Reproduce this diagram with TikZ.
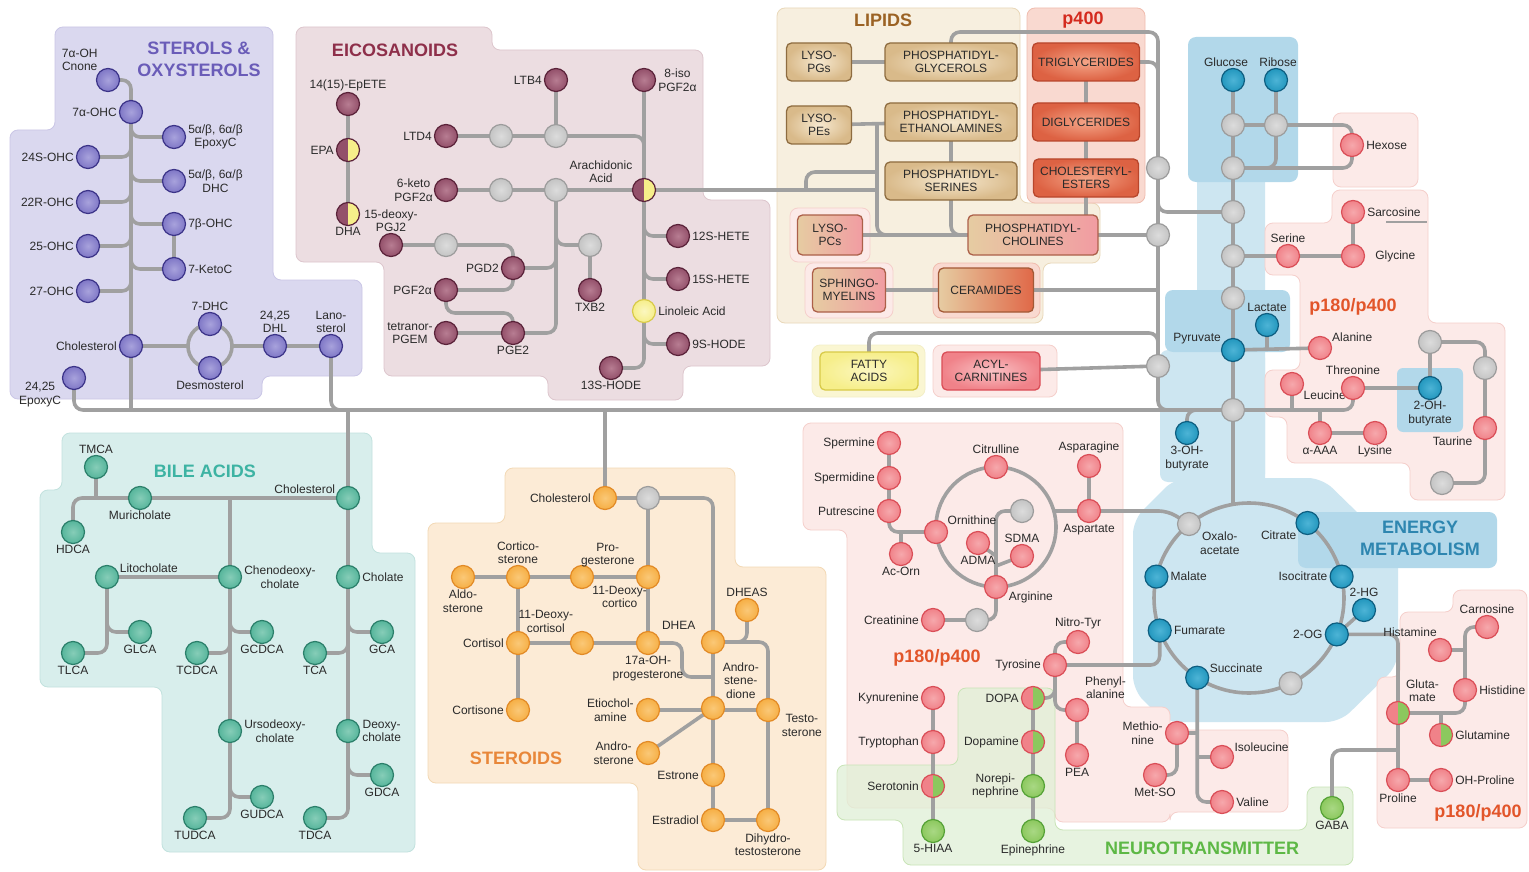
\documentclass[tikz,border=0pt]{standalone}
\usepackage{fontspec}
\setmainfont{Liberation Sans}
\usetikzlibrary{calc}
\pgfdeclarelayer{panel}
\pgfdeclarelayer{link}
\pgfsetlayers{panel,link,main}
\definecolor{lnc}{HTML}{A0A0A0}
\definecolor{txt}{HTML}{2A2A2A}
\definecolor{sterF}{HTML}{7F77C6}\definecolor{sterL}{HTML}{A8A2DC}\definecolor{sterD}{HTML}{3B3388}
\definecolor{eicF}{HTML}{93506A}\definecolor{eicL}{HTML}{B77D92}\definecolor{eicD}{HTML}{5A2239}
\definecolor{gryF}{HTML}{C4C4C4}\definecolor{gryL}{HTML}{DCDCDC}\definecolor{gryD}{HTML}{9C9C9C}
\definecolor{bilF}{HTML}{56B59B}\definecolor{bilL}{HTML}{86CDB8}\definecolor{bilD}{HTML}{2B7F6A}
\definecolor{orgF}{HTML}{F6AF45}\definecolor{orgL}{HTML}{FAC877}\definecolor{orgD}{HTML}{E28A26}
\definecolor{redF}{HTML}{F08289}\definecolor{redL}{HTML}{F6A8AC}\definecolor{redD}{HTML}{DA4E57}
\definecolor{bluF}{HTML}{2397BE}\definecolor{bluL}{HTML}{4DB4D6}\definecolor{bluD}{HTML}{0E5E80}
\definecolor{grnF}{HTML}{8CC85E}\definecolor{grnL}{HTML}{A9D884}\definecolor{grnD}{HTML}{55A236}
\definecolor{yelF}{HTML}{F6EE8A}\definecolor{yelL}{HTML}{FBF7C0}\definecolor{yelD}{HTML}{D8CA48}
\definecolor{tanF}{HTML}{D9BA8A}\definecolor{tanL}{HTML}{F6E8CF}\definecolor{tanD}{HTML}{8E6C40}
\definecolor{tanH}{HTML}{E6CCA2}\definecolor{pnkH}{HTML}{F19CA2}\definecolor{orH}{HTML}{E06848}
\definecolor{rbxL}{HTML}{F4A487}\definecolor{rbxF}{HTML}{DD6243}\definecolor{rbxD}{HTML}{B8462C}
\definecolor{sterP}{HTML}{DAD8EF}\definecolor{sterPD}{HTML}{CAC6E6}
\definecolor{eicP}{HTML}{ECDDE1}\definecolor{eicPD}{HTML}{DDC6CD}
\definecolor{lipP}{HTML}{F7EFDF}\definecolor{lipPD}{HTML}{E9D8B9}
\definecolor{p4P}{HTML}{F9D9D0}\definecolor{p4PD}{HTML}{F0BCAE}
\definecolor{pinkP}{HTML}{FCEAE8}\definecolor{pinkPD}{HTML}{F5CFCB}
\definecolor{bilP}{HTML}{D8EEEC}\definecolor{bilPD}{HTML}{C2E2DE}
\definecolor{strP}{HTML}{FCEBD6}\definecolor{strPD}{HTML}{F3D9B5}
\definecolor{grnP}{HTML}{E0F0D6}\definecolor{grnPD}{HTML}{C8E4B6}
\definecolor{bluP}{HTML}{CDE6F1}\definecolor{bluP2}{HTML}{B2D8EA}
\definecolor{yelP}{HTML}{FAF6D2}
\definecolor{sterT}{HTML}{6A5CB8}\definecolor{eicT}{HTML}{8E2F4A}\definecolor{lipT}{HTML}{9B6224}
\definecolor{p4T}{HTML}{D42A1E}\definecolor{pT}{HTML}{E2552A}\definecolor{bilT}{HTML}{3DB3A3}
\definecolor{strT}{HTML}{E8873A}\definecolor{bluT}{HTML}{2E86B0}\definecolor{grnT}{HTML}{5DB845}
\newcommand\lblf{\fontsize{12}{13.5}\selectfont}
\newcommand\boxf{\fontsize{12}{13.5}\selectfont}
\newcommand\ttlf{\fontsize{18}{22}\selectfont\bfseries}
\newcommand\MB[6]{\node[#1,label={[name=#2-t,lbl,label distance=#5]#4:{#6}}] (#2) at (#3) {};}
\tikzset{
 nd/.style={circle, minimum size=23pt, inner sep=0pt, line width=1.2pt},
 ster/.style={nd, draw=sterD, inner color=sterL, outer color=sterF},
 eic/.style={nd, draw=eicD, inner color=eicL, outer color=eicF},
 gry/.style={nd, draw=gryD, inner color=gryL, outer color=gryF},
 bil/.style={nd, draw=bilD, inner color=bilL, outer color=bilF},
 org/.style={nd, draw=orgD, inner color=orgL, outer color=orgF},
 rdn/.style={nd, draw=redD, inner color=redL, outer color=redF},
 blu/.style={nd, draw=bluD, inner color=bluL, outer color=bluF},
 grn/.style={nd, draw=grnD, inner color=grnL, outer color=grnF},
 yel/.style={nd, draw=yelD, inner color=yelL, outer color=yelF},
 half/.style n args={3}{nd, draw=#3, path picture={\fill[#1] (path picture bounding box.south west) rectangle (path picture bounding box.north); \fill[#2] (path picture bounding box.north) rectangle (path picture bounding box.south east);}},
 lk/.style={draw=lnc, line width=3.6pt, rounded corners=9pt},
 lbl/.style={font=\lblf, text=txt, align=center, inner sep=1pt},
 ttl/.style={font=\ttlf, align=center, inner sep=0pt},
 bx/.style={rectangle, rounded corners=5pt, line width=1.3pt, font=\boxf, text=txt, align=center, minimum height=38pt, inner sep=2pt},
 tanb/.style={bx, draw=tanD, inner color=tanL, outer color=tanF},
 tp/.style={bx, draw=tanD!60!redD, left color=tanH, right color=pnkH},
 tr/.style={bx, draw=tanD!50!rbxD, left color=tanH, right color=orH},
 rbx/.style={bx, draw=rbxD, inner color=rbxL, outer color=rbxF},
 ybx/.style={bx, draw=yelD, inner color=yelL, outer color=yelF},
 pbx/.style={bx, draw=redD, inner color=redL!70!white, outer color=redF},
 pnl/.style={rounded corners=8pt, line width=0.8pt}
}
\begin{document}
\begin{tikzpicture}[x=1pt,y=-1pt]
\useasboundingbox (0,0) rectangle (1529,872);
\begin{pgfonlayer}{panel}
\fill[white] (0,0) rectangle (1529,872);
% sterols
\filldraw[pnl, fill=sterP, draw=sterPD] (55,27) -- (273,27) -- (273,280) -- (362,280) -- (362,376) -- (262,376) -- (262,399) -- (10,399) -- (10,130) -- (55,130) -- cycle;
% eicosanoids
\filldraw[pnl, fill=eicP, draw=eicPD] (296,27) -- (492,27) -- (492,50) -- (703,50) -- (703,200) -- (770,200) -- (770,366) -- (683,366) -- (683,400) -- (548,400) -- (548,376) -- (384,376) -- (384,262) -- (296,262) -- cycle;
% lipids
\filldraw[pnl, fill=lipP, draw=lipPD] (777,8) -- (1020,8) -- (1020,203) -- (1100,203) -- (1100,263) -- (1043,263) -- (1043,323) -- (777,323) -- cycle;
\filldraw[pnl, fill=p4P, draw=p4PD] (1027,8) rectangle (1145,203);
\filldraw[pnl, fill=pinkP, draw=pinkPD] (790,208) rectangle (870,262);
\filldraw[pnl, fill=pinkP, draw=pinkPD] (805,263) rectangle (893,318);
\filldraw[pnl, fill=p4P, draw=p4PD] (933,263) rectangle (1040,318);
\filldraw[pnl, fill=yelP, draw=yelD!30] (812,345) rectangle (925,397);
\filldraw[pnl, fill=pinkP, draw=pinkPD] (933,345) rectangle (1057,397);
% energy
\fill[bluP, rounded corners=8pt] (1197,170) rectangle (1265,500);
\fill[bluP, rounded corners=8pt] (1160,350) rectangle (1265,482);
\fill[bluP2, rounded corners=8pt] (1188,37) rectangle (1298,182);
\fill[bluP2, rounded corners=8pt] (1165,290) rectangle (1290,352);
\fill[bluP, rounded corners=14pt] (1175,478) -- (1322,478) -- (1398,552) -- (1398,665) -- (1340,722) -- (1165,722) -- (1133,690) -- (1133,520) -- cycle;
\fill[bluP2, rounded corners=8pt] (1298,512) rectangle (1497,568);
% pink p180/p400 right top
\filldraw[pnl, fill=pinkP, draw=pinkPD] (1333,113) rectangle (1418,187);
\filldraw[pnl, fill=pinkP, draw=pinkPD] (1332,190) -- (1428,190) -- (1428,323) -- (1505,323) -- (1505,500) -- (1410,500) -- (1410,463) -- (1287,463) -- (1287,417) -- (1265,417) -- (1265,370) -- (1300,370) -- (1300,275) -- (1265,275) -- (1265,223) -- (1332,223) -- cycle;
\fill[bluP2, rounded corners=6pt] (1397,368) rectangle (1463,432);
% pink centre
\filldraw[pnl, fill=pinkP, draw=pinkPD] (803,423) -- (1123,423) -- (1123,707) -- (1170,707) -- (1170,730) -- (1288,730) -- (1288,812) -- (1170,812) -- (1170,822) -- (1055,822) -- (1055,808) -- (847,808) -- (847,530) -- (803,530) -- cycle;
\filldraw[pnl, fill=pinkP, draw=pinkPD] (1400,612) -- (1453,612) -- (1453,590) -- (1527,590) -- (1527,828) -- (1377,828) -- (1377,677) -- (1400,677) -- cycle;
% neurotransmitter
\filldraw[pnl, fill=grnP, draw=grnPD, fill opacity=0.75] (958,688) -- (1055,688) -- (1055,830) -- (1307,830) -- (1307,787) -- (1353,787) -- (1353,865) -- (903,865) -- (903,820) -- (837,820) -- (837,765) -- (958,765) -- cycle;
% bile
\filldraw[pnl, fill=bilP, draw=bilPD] (62,433) -- (372,433) -- (372,553) -- (415,553) -- (415,852) -- (162,852) -- (162,687) -- (40,687) -- (40,490) -- (62,490) -- cycle;
% steroids
\filldraw[pnl, fill=strP, draw=strPD] (505,468) -- (735,468) -- (735,567) -- (826,567) -- (826,870) -- (638,870) -- (638,783) -- (428,783) -- (428,523) -- (505,523) -- cycle;
\end{pgfonlayer}

% ---------- titles
\node[ttl, text=sterT] (tSter) at (199,59) {STEROLS \&\\OXYSTEROLS};
\node[ttl, text=eicT] (tEic) at (395,50) {EICOSANOIDS};
\node[ttl, text=lipT] (tLip) at (883,20) {LIPIDS};
\node[ttl, text=p4T] (tP4) at (1083,20) {p400};
\node[ttl, text=pT] (tP1) at (1353,307) {p180/p400};
\node[ttl, text=pT] (tP2) at (937,658) {p180/p400};
\node[ttl, text=pT] (tP3) at (1478,813) {p180/p400};
\node[ttl, text=bilT] (tBil) at (205,471) {BILE ACIDS};
\node[ttl, text=strT] (tStr) at (516,758) {STEROIDS};
\node[ttl, text=bluT] (tEn) at (1420,538) {ENERGY\\METABOLISM};
\node[ttl, text=grnT] (tNeu) at (1202,848) {NEUROTRANSMITTER};

% ---------- sterols
\MB{ster}{s7a1}{108,80}{140}{0pt}{7α-OH\\Cnone}
\MB{ster}{s7a}{131,112}{180}{1pt}{7α-OHC}
\MB{ster}{sEpo}{174,137}{0}{1pt}{5α/β, 6α/β\\EpoxyC}
\MB{ster}{s24}{88,157}{180}{1pt}{24S-OHC}
\MB{ster}{sDHC}{174,181}{0}{1pt}{5α/β, 6α/β\\DHC}
\MB{ster}{s22}{88,202}{180}{1pt}{22R-OHC}
\MB{ster}{s7b}{174,224}{0}{1pt}{7β-OHC}
\MB{ster}{s25}{88,246}{180}{1pt}{25-OHC}
\MB{ster}{s7k}{174,269}{0}{1pt}{7-KetoC}
\MB{ster}{s27}{88,291}{180}{1pt}{27-OHC}
\MB{ster}{sChol}{131,346}{180}{1pt}{Cholesterol}
\MB{ster}{sDHC7}{210,324}{90}{0pt}{7-DHC}
\MB{ster}{sDes}{210,368}{270}{0pt}{Desmosterol}
\MB{ster}{sDHL}{275,346}{90}{0pt}{24,25\\DHL}
\MB{ster}{sLan}{331,346}{90}{0pt}{Lano-\\sterol}
\MB{ster}{sEpC}{74,378}{195}{0pt}{24,25\\EpoxyC}

% ---------- eicosanoids
\MB{eic}{eEp}{348,104}{90}{0pt}{14(15)-EpETE}
\MB{half={eicF}{yelF}{eicD}}{eEPA}{348,150}{180}{1pt}{EPA}
\MB{half={eicF}{yelF}{eicD}}{eDHA}{348,214}{270}{0pt}{DHA}
\MB{eic}{ePGJ}{391,245}{90}{0pt}{15-deoxy-\\PGJ2}
\MB{eic}{eLTB}{556,80}{180}{1pt}{LTB4}
\MB{eic}{e8i}{644,80}{0}{1pt}{8-iso\\PGF2α}
\MB{eic}{eLTD}{446,136}{180}{1pt}{LTD4}
\node[gry] (g501a) at (501,136) {};
\node[gry] (g556a) at (556,136) {};
\MB{eic}{e6k}{446,190}{180}{0pt}{6-keto\\PGF2α}
\node[gry] (g501b) at (501,190) {};
\node[gry] (g556b) at (556,190) {};
\MB{half={eicF}{yelF}{eicD}}{eAA}{644,190}{150}{0pt}{Arachidonic\\Acid}
\MB{eic}{e12}{678,236}{0}{1pt}{12S-HETE}
\MB{eic}{e15}{678,279}{0}{1pt}{15S-HETE}
\MB{yel}{eLin}{644,311}{0}{1pt}{Linoleic Acid}
\MB{eic}{e9}{678,344}{0}{1pt}{9S-HODE}
\MB{eic}{e13}{611,368}{270}{0pt}{13S-HODE}
\node[gry] (g446) at (446,245) {};
\node[gry] (g590) at (590,245) {};
\MB{eic}{eTX}{590,290}{270}{0pt}{TXB2}
\MB{eic}{eD2}{513,268}{180}{1pt}{PGD2}
\MB{eic}{eF2}{446,290}{180}{1pt}{PGF2α}
\MB{eic}{eTet}{446,333}{180}{0pt}{tetranor-\\PGEM}
\MB{eic}{eE2}{513,333}{270}{0pt}{PGE2}

% ---------- lipids
\node[tanb, minimum width=65pt] (LPG) at (819,62) {LYSO-\\PGs};
\node[tanb, minimum width=132pt] (PG) at (951,62) {PHOSPHATIDYL-\\GLYCEROLS};
\node[tanb, minimum width=65pt] (LPE) at (819,125) {LYSO-\\PEs};
\node[tanb, minimum width=132pt] (PE) at (951,122) {PHOSPHATIDYL-\\ETHANOLAMINES};
\node[tanb, minimum width=132pt] (PS) at (951,181) {PHOSPHATIDYL-\\SERINES};
\node[tp, minimum width=65pt, minimum height=40pt] (LPC) at (830,235) {LYSO-\\PCs};
\node[tp, minimum width=130pt, minimum height=40pt] (PC) at (1033,235) {PHOSPHATIDYL-\\CHOLINES};
\node[tp, minimum width=73pt, minimum height=44pt] (SM) at (849,290) {SPHINGO-\\MYELINS};
\node[tr, minimum width=95pt, minimum height=44pt] (CER) at (986,290) {CERAMIDES};
\node[rbx, minimum width=107pt] (TG) at (1086,62) {TRIGLYCERIDES};
\node[rbx, minimum width=107pt] (DG) at (1086,122) {DIGLYCERIDES};
\node[rbx, minimum width=105pt] (CE) at (1086,178) {CHOLESTERYL-\\ESTERS};
\node[ybx, minimum width=98pt] (FA) at (869,371) {FATTY\\ACIDS};
\node[pbx, minimum width=98pt] (AC) at (991,371) {ACYL-\\CARNITINES};
\node[gry] (gL1) at (1158,168) {};
\node[gry] (gL2) at (1158,235) {};
\node[gry] (gL3) at (1158,366) {};

% ---------- energy
\MB{blu}{nGlc}{1233,80}{90}{0pt,xshift=-7pt}{Glucose}
\MB{blu}{nRib}{1276,80}{90}{0pt,xshift=2pt}{Ribose}
\node[gry] (gE125a) at (1233,125) {};
\node[gry] (gE125b) at (1276,125) {};
\node[gry] (gE168) at (1233,168) {};
\node[gry] (gE212) at (1233,212) {};
\node[gry] (gE256) at (1233,256) {};
\node[gry] (gE298) at (1233,298) {};
\MB{blu}{nPyr}{1233,350}{155}{0pt}{Pyruvate}
\MB{blu}{nLac}{1267,325}{90}{0pt}{Lactate}
\node[gry] (gE410) at (1233,410) {};
\MB{blu}{n3OH}{1187,433}{270}{0pt}{3-OH-\\butyrate}
\MB{gry}{gOAA}{1189,524}{-35}{0pt}{Oxalo-\\acetate}
\MB{blu}{nCit}{1307.5,523}{215}{0pt}{Citrate}
\MB{blu}{nMal}{1156.4,576.6}{0}{1pt}{Malate}
\MB{blu}{nIso}{1341.6,576.6}{180}{1pt}{Isocitrate}
\MB{blu}{n2HG}{1364,610}{90}{0pt}{2-HG}
\MB{blu}{n2OG}{1336.8,634.4}{180}{1pt}{2-OG}
\MB{blu}{nFum}{1159.7,630.5}{0}{1pt}{Fumarate}
\MB{blu}{nSuc}{1197.2,677.7}{20}{0pt}{Succinate}
\node[gry] (gTCA) at (1290.6,683.4) {};

% ---------- p180/p400 right
\MB{rdn}{nHex}{1352,145}{0}{1pt}{Hexose}
\MB{rdn}{nSar}{1353,212}{0}{1pt}{Sarcosine}
\MB{rdn}{nSer}{1288,256}{90}{0pt}{Serine}
\MB{rdn}{nGly}{1353,256}{0}{9pt}{Glycine}
\MB{rdn}{nAla}{1320,348}{25}{0pt}{Alanine}
\MB{rdn}{nLeu}{1292,384}{-30}{0pt}{Leucine}
\MB{rdn}{nThr}{1353,388}{90}{0pt}{Threonine}
\MB{rdn}{nAAA}{1320,433}{270}{0pt}{α-AAA}
\MB{rdn}{nLys}{1375,433}{270}{0pt}{Lysine}
\MB{blu}{n2OHB}{1430,388}{270}{0pt}{2-OH-\\butyrate}
\node[gry] (gB1) at (1430,342) {};
\node[gry] (gB2) at (1485,368) {};
\MB{rdn}{nTau}{1485,428}{215}{2pt}{Taurine}
\node[gry] (gB3) at (1442,483) {};
\MB{rdn}{nCar}{1487,627}{90}{0pt}{Carnosine}
\MB{rdn}{nHism}{1440,650}{100}{0pt}{Histamine}
\MB{rdn}{nHis}{1465,690}{0}{1pt}{Histidine}
\MB{half={redF}{grnF}{redD}}{nGlu}{1398,713}{55}{0pt}{Gluta-\\mate}
\MB{half={redF}{grnF}{redD}}{nGln}{1441,735}{0}{1pt}{Glutamine}
\MB{rdn}{nPro}{1398,780}{270}{0pt}{Proline}
\MB{rdn}{nOHP}{1441,780}{0}{1pt}{OH-Proline}
\MB{grn}{nGABA}{1332,808}{270}{0pt}{GABA}

% ---------- p180/p400 centre
\MB{rdn}{aSpm}{889,443}{180}{1pt}{Spermine}
\MB{rdn}{aSpd}{889,478}{180}{1pt}{Spermidine}
\MB{rdn}{aPut}{889,511}{180}{1pt}{Putrescine}
\MB{rdn}{aOrn}{936,532}{30}{0pt}{Ornithine}
\MB{rdn}{aCit}{996,467}{90}{0pt}{Citrulline}
\MB{rdn}{aArg}{996,587}{-15}{0pt}{Arginine}
\MB{rdn}{aAcO}{901,554}{270}{0pt}{Ac-Orn}
\node[gry] (gU) at (1022,511) {};
\MB{rdn}{aADMA}{978,543}{270}{0pt}{ADMA}
\MB{rdn}{aSDMA}{1022,556}{90}{0pt}{SDMA}
\MB{rdn}{aAsn}{1089,466}{90}{0pt}{Asparagine}
\MB{rdn}{aAsp}{1089,511}{270}{0pt}{Aspartate}
\MB{rdn}{aCrn}{933,620}{180}{1pt}{Creatinine}
\node[gry] (gCr) at (977,620) {};
\MB{rdn}{aTyr}{1055,665}{180}{1pt}{Tyrosine}
\MB{rdn}{aNT}{1078,642}{90}{0pt}{Nitro-Tyr}
\MB{rdn}{aPhe}{1077,710}{55}{0pt}{Phenyl-\\alanine}
\MB{rdn}{aPEA}{1077,755}{270}{0pt}{PEA}
\MB{half={redF}{grnF}{redD}}{nDOPA}{1033,698}{180}{1pt}{DOPA}
\MB{half={redF}{grnF}{redD}}{nDA}{1033,742}{180}{1pt}{Dopamine}
\MB{grn}{nNE}{1033,786}{180}{1pt}{Norepi-\\nephrine}
\MB{grn}{nEpi}{1033,831}{270}{0pt}{Epinephrine}
\MB{rdn}{aKyn}{933,698}{180}{1pt}{Kynurenine}
\MB{rdn}{aTrp}{933,742}{180}{1pt}{Tryptophan}
\MB{half={redF}{grnF}{redD}}{nSer5}{933,786}{180}{1pt}{Serotonin}
\MB{grn}{n5H}{933,831}{270}{0pt}{5-HIAA}
\MB{rdn}{aMet}{1177,733}{180}{1pt}{Methio-\\nine}
\MB{rdn}{aMSO}{1155,775}{270}{0pt}{Met-SO}
\MB{rdn}{aIle}{1222,757}{20}{0pt}{Isoleucine}
\MB{rdn}{aVal}{1222,802}{0}{1pt}{Valine}

% ---------- steroids
\MB{org}{oChol}{605,498}{180}{1pt}{Cholesterol}
\node[gry] (gSt) at (648,498) {};
\MB{org}{oAldo}{463,577}{270}{0pt}{Aldo-\\sterone}
\MB{org}{oCort}{518,577}{90}{0pt}{Cortico-\\sterone}
\MB{org}{o11DC}{582,577}{-40}{0pt}{11-Deoxy-\\cortico}
\MB{org}{oProg}{648,577}{145}{3pt}{Pro-\\gesterone}
\MB{org}{oCsol}{518,643}{180}{1pt}{Cortisol}
\MB{org}{oCson}{518,710}{180}{1pt}{Cortisone}
\MB{org}{o11DCl}{582,643}{130}{0pt}{11-Deoxy-\\cortisol}
\MB{org}{o17}{648,643}{270}{0pt}{17a-OH-\\progesterone}
\MB{org}{oDHEA}{713,642}{145}{8pt}{DHEA}
\MB{org}{oDHEAS}{747,610}{90}{0pt}{DHEAS}
\MB{org}{oAD}{713,708}{45}{0pt}{Andro-\\stene-\\dione}
\MB{org}{oTes}{768,710}{-15}{1pt}{Testo-\\sterone}
\MB{org}{oEtio}{648,710}{180}{1pt}{Etiochol-\\amine}
\MB{org}{oAndro}{648,753}{180}{1pt}{Andro-\\sterone}
\MB{org}{oE1}{713,775}{180}{1pt}{Estrone}
\MB{org}{oE2}{713,820}{180}{1pt}{Estradiol}
\MB{org}{oDHT}{768,820}{270}{0pt}{Dihydro-\\testosterone}

% ---------- bile acids
\MB{bil}{bTM}{96,467}{90}{0pt}{TMCA}
\MB{bil}{bMur}{140,498}{270}{0pt}{Muricholate}
\MB{bil}{bHD}{73,532}{270}{0pt}{HDCA}
\MB{bil}{bChol}{348,498}{165}{0pt}{Cholesterol}
\MB{bil}{bLito}{107,577}{15}{0pt}{Litocholate}
\MB{bil}{bCh}{230,577}{0}{1pt}{Chenodeoxy-\\cholate}
\MB{bil}{bCA}{348,577}{0}{1pt}{Cholate}
\MB{bil}{bGL}{140,632}{270}{0pt}{GLCA}
\MB{bil}{bTL}{73,653}{270}{0pt}{TLCA}
\MB{bil}{bGCD}{262,632}{270}{0pt}{GCDCA}
\MB{bil}{bTCD}{197,653}{270}{0pt}{TCDCA}
\MB{bil}{bUD}{230,731}{0}{1pt}{Ursodeoxy-\\cholate}
\MB{bil}{bGUD}{262,797}{270}{0pt}{GUDCA}
\MB{bil}{bTUD}{195,818}{270}{0pt}{TUDCA}
\MB{bil}{bGCA}{382,632}{270}{0pt}{GCA}
\MB{bil}{bTCA}{315,653}{270}{0pt}{TCA}
\MB{bil}{bDCA}{348,731}{0}{1pt}{Deoxy-\\cholate}
\MB{bil}{bGDC}{382,775}{270}{0pt}{GDCA}
\MB{bil}{bTDC}{315,818}{270}{0pt}{TDCA}

% ---------- coordinates
\coordinate (ring) at (210,346);
\coordinate (ringW) at (188,346);
\coordinate (ringE) at (232,346);
\coordinate (jLan) at (365,410);
\coordinate (topR) at (1158,32);
\coordinate (v877) at (877,125);
\coordinate (aa0) at (806,190);
\coordinate (aa1) at (877,172);
\coordinate (fa1) at (1100,333);
\coordinate (tcaC) at (1249,598);
\coordinate (tcaTop) at (1233,504);
\coordinate (ureaC) at (996,527);
\coordinate (ureaE) at (1054,511);
\coordinate (jOA) at (1168,511);
\coordinate (jAD) at (996,556);
\coordinate (jSD) at (996,566);
\coordinate (jGABA) at (1398,750);
\coordinate (j17) at (713,677);
\coordinate (jCh) at (230,498);
\coordinate (sarA) at (1386,222);
\coordinate (sarB) at (1427,222);

\begin{pgfonlayer}{link}
% main line
\draw[lk] (sEpC.center) |- (gE410.center);
% sterols
\draw[lk] (s7a1.center) -| (s7a.center);
\draw[lk] (s7a.center) -- (sChol.center) -- (sChol.center |- gE410.center);
\foreach \n in {sEpo,s24,sDHC,s22,s7b,s25,s7k,s27} \draw[lk] (s7a.center) |- (\n.center);
\draw[lk] (s7b.center) -- (s7k.center);
\draw[lk] (ring) circle (22);
\draw[lk] (sChol.center) -- (ringW);
\draw[lk] (ringE) -- (sDHL.center) -- (sLan.center);
\draw[lk] (sLan.center) |- (jLan);
% eicosanoids
\draw[lk] (eEp.center) -- (eDHA.center);
\draw[lk] (eLTD.center) -- (g556a.center) -| (eAA.center);
\draw[lk] (eLTB.center) -- (g556a.center);
\draw[lk] (e8i.center) -- (eLin.center);
\draw[lk] (e6k.center) -- (eAA.center);
\draw[lk] (eAA.center) |- (e12.center);
\draw[lk] (eAA.center) |- (e15.center);
\draw[lk] (eLin.center) |- (e9.center);
\draw[lk] (eLin.center) |- (e13.center);
\draw[lk] (g556b.center) |- (g590.center);
\draw[lk] (g590.center) -- (eTX.center);
\draw[lk] (g556b.center) |- (eD2.center);
\draw[lk] (g556b.center) |- (eE2.center);
\draw[lk] (ePGJ.center) -- (g446.center) -| (eD2.center);
\draw[lk] (eF2.center) -| (eD2.center);
\draw[lk] (eF2.center) |- ($(eE2.center)+(0,-20)$) -- (eE2.center);
\draw[lk] (eTet.center) -- (eE2.center);
% lipids
\draw[lk] (eAA.center) -- (eAA.center -| v877);
\draw[lk] (aa0) |- (aa1);
\draw[lk] (LPG.center) -- (PG.center);
\draw[lk] (PG.center) |- (topR) -- (gL1.center) -- (gL3.center);
\draw[lk] (gL3.center) |- (gE410.center);
\draw[lk] (TG.center) -| (gL1.center);
\draw[lk] (gL1.center) |- (gE212.center);
\draw[lk] (LPE.center) -- (PE.center);
\draw[lk] (v877) |- (PC.center);
\draw[lk] (LPC.center) -- (PC.center);
\draw[lk] (PE.center) -- (PS.center) |- (PC.center);
\draw[lk] (TG.center) -- (CE.center) -- (CE.center |- PC.center);
\draw[lk] (PC.center) -- (gL2.center);
\draw[lk] (SM.center) -- (CER.center) -- (CER.center -| gL2.center);
\draw[lk] (FA.center) |- (fa1) -| (gL3.center);
\draw[lk] (AC.center) -- (gL3.center);
% energy
\draw[lk] (nGlc.center) -- (gE125a.center) -- (gE125b.center) -- (nRib.center);
\draw[lk] (gE125b.center) |- (gE168.center);
\draw[lk] (gE125b.center) -| (nHex.center);
\draw[lk] (gE168.center) -| (nHex.center);
\draw[lk] (gE125a.center) -- (gE410.center) -- (tcaTop);
\draw[lk] (tcaC) circle (95);
\draw[lk] (nPyr.center) -- (nAla.center);
\draw[lk] (nLac.center) -- (nLac.center |- nPyr.center);
\draw[lk] (n3OH.center) |- (gE410.center);
\draw[lk] (gE410.center) -| (nThr.center);
\draw[lk] (nLeu.center) -- (nLeu.center |- gE410.center);
\draw[lk] (nAAA.center) -- (nAAA.center |- gE410.center);
\draw[lk] (nAAA.center) -- (nLys.center);
\draw[lk] (nThr.center) -- (n2OHB.center) -- (gB1.center) -| (gB2.center) -- (nTau.center) |- (gB3.center);
\draw[lk] (gE256.center) -- (nSer.center) -- (nGly.center) -- (nSar.center);
\draw[lnc, line width=1.2pt] (sarA) -- (sarB);
\draw[lk] (n2HG.center) -- (n2OG.center);
\draw[lk] (n2OG.center) -| (nPro.center);
\draw[lk] (jGABA) -| (nGABA.center);
\draw[lk] (nGlu.center) -| (nHis.center) |- (nCar.center);
\draw[lk] (nGln.center) -- (nGln.center |- nGlu.center);
\draw[lk] (nHism.center) -- (nHism.center -| nHis.center);
\draw[lk] (nPro.center) -- (nOHP.center);
\draw[lk] (ureaE) -- (aAsp.center) -- (jOA) -- (gOAA.center);
\draw[lk] (aTyr.center) -| (nFum.center);
\draw[lk] (nSuc.center) |- (aVal.center);
\draw[lk] (aIle.center) -- (aIle.center -| nSuc.center);
\draw[lk] (aMet.center) -- (aMet.center -| nSuc.center);
\draw[lk] (aMSO.center) -| (aMet.center);
% centre amino
\draw[lk] (aSpm.center) -- (aPut.center) |- (aOrn.center);
\draw[lk] (aAcO.center) -- (aAcO.center |- aOrn.center);
\draw[lk] (ureaC) circle (60);
\draw[lk] (aAsn.center) -- (aAsp.center);
\draw[lk] (gU.center) -| (aArg.center);
\draw[lk] (aADMA.center) -- (jAD);
\draw[lk] (aSDMA.center) -- (jSD);
\draw[lk] (aCrn.center) -- (gCr.center) -| (aArg.center);
\draw[lk] (aTyr.center) |- (aNT.center);
\draw[lk] (aTyr.center) |- (nDOPA.center);
\draw[lk] (aTyr.center) |- (aPhe.center);
\draw[lk] (aPhe.center) -- (aPEA.center);
\draw[lk] (nDOPA.center) -- (nEpi.center);
\draw[lk] (aKyn.center) -- (n5H.center);
% steroids
\draw[lk] (oChol.center) -- (oChol.center |- gE410.center);
\draw[lk] (oChol.center) -- (gSt.center) -| (oDHEA.center);
\draw[lk] (gSt.center) -- (oProg.center) -- (o17.center);
\draw[lk] (oAldo.center) -- (oProg.center);
\draw[lk] (oCort.center) -- (oCson.center);
\draw[lk] (oCsol.center) -- (o17.center);
\draw[lk] (o17.center) -- ++(34,0) |- (j17);
\draw[lk] (oDHEA.center) -- (oE2.center);
\draw[lk] (oDHEA.center) -| (oDHEAS.center);
\draw[lk] (oDHEA.center) -| (oTes.center);
\draw[lk] (oEtio.center) -- (oTes.center);
\draw[lk] (oAndro.center) -- (oAD.center);
\draw[lk] (oE2.center) -- (oDHT.center) -- (oTes.center);
% bile acids
\draw[lk] (bChol.center) -- (bChol.center |- gE410.center);
\draw[lk] (bChol.center) -| (bHD.center);
\draw[lk] (bTM.center) -- (bTM.center |- bChol.center);
\draw[lk] (bChol.center) -- (bCA.center) -- (bDCA.center) |- (bTDC.center);
\draw[lk] (bCA.center) |- (bGCA.center);
\draw[lk] (bCA.center) |- (bTCA.center);
\draw[lk] (bDCA.center) |- (bGDC.center);
\draw[lk] (jCh) -- (bCh.center) -- (bUD.center) |- (bTUD.center);
\draw[lk] (bCh.center) |- (bGCD.center);
\draw[lk] (bCh.center) |- (bTCD.center);
\draw[lk] (bUD.center) |- (bGUD.center);
\draw[lk] (bLito.center) -- (bCh.center);
\draw[lk] (bLito.center) |- (bTL.center);
\draw[lk] (bLito.center) |- (bGL.center);
\end{pgfonlayer}
\end{tikzpicture}
\end{document}
